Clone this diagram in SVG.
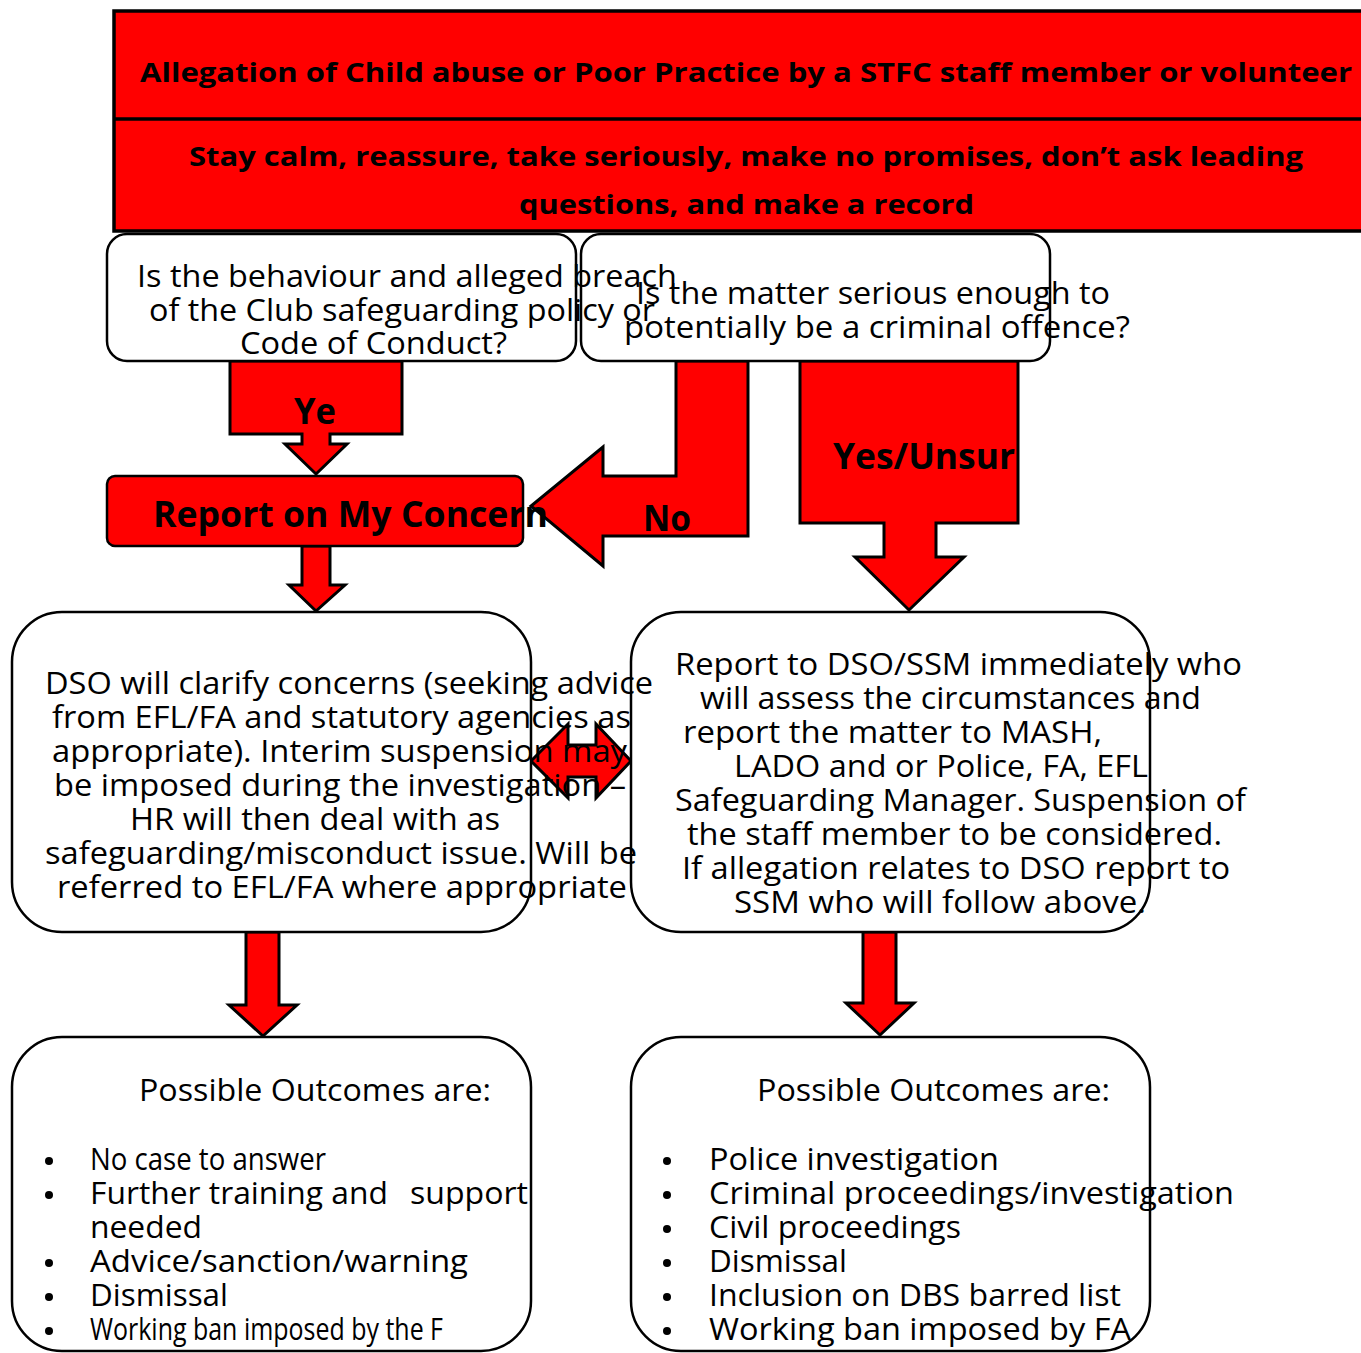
<svg xmlns="http://www.w3.org/2000/svg" width="1361" height="1353" viewBox="0 0 1361 1353">
<style>
.t{font-family:"Open Sans","Liberation Sans",sans-serif;font-size:31px;fill:#000}
.b{font-family:"Open Sans","Liberation Sans",sans-serif;font-weight:bold;fill:#000}
.box{fill:#fff;stroke:#000;stroke-width:2.5}
.red{fill:#ff0000;stroke:#000;stroke-width:3}
</style>
<rect width="1361" height="1353" fill="#fff"/>
<g id="header">
<rect x="114" y="11" width="1270" height="220" fill="#ff0000" stroke="#000" stroke-width="3.5"/>
<line x1="114" y1="119" x2="1361" y2="119" stroke="#000" stroke-width="3.5"/>
<text class="b" font-size="27" x="140" y="82" textLength="1212" lengthAdjust="spacingAndGlyphs">Allegation of Child abuse or Poor Practice by a STFC staff member or volunteer</text>
<text class="b" font-size="27" x="189" y="166" textLength="1114" lengthAdjust="spacingAndGlyphs">Stay calm, reassure, take seriously, make no promises, don’t ask leading</text>
<text class="b" font-size="27" x="519" y="214" textLength="455" lengthAdjust="spacingAndGlyphs">questions, and make a record</text>
</g>
<g id="connectors">
<polygon class="red" points="230,361 402,361 402,434 330,434 330,444 347,444 316,474 285,444 302,444 302,434 230,434"/>
<text class="b" font-size="36" x="294" y="424" textLength="42" lengthAdjust="spacingAndGlyphs">Ye</text>
<polygon class="red" points="676,361 748,361 748,536 603,536 603,566 531,506 603,447 603,476 676,476"/>
<text class="b" font-size="36" x="643" y="531" textLength="48" lengthAdjust="spacingAndGlyphs">No</text>
<polygon class="red" points="800,361 1018,361 1018,523 936,523 936,557 964,557 909,610 855,557 884,557 884,523 800,523"/>
<text class="b" font-size="36" x="833" y="469" textLength="182" lengthAdjust="spacingAndGlyphs">Yes/Unsur</text>
<polygon class="red" points="302,546 330,546 330,585 345,585 316,611 289,585 302,585"/>
<polygon class="red" points="531,761 568,724 568,745 596,745 596,724 631,761 596,798 596,777 568,777 568,798"/>
<polygon class="red" points="246,932 279,932 279,1005 297,1005 263,1036 229,1005 246,1005"/>
<polygon class="red" points="863,932 896,932 896,1003 914,1003 880,1035 846,1003 863,1003"/>
</g>
<g id="q-criminal">
<rect class="box" x="581" y="234" width="469" height="127" rx="20"/>
<text class="t" x="636" y="304" textLength="474" lengthAdjust="spacingAndGlyphs">Is the matter serious enough to</text>
<text class="t" x="624" y="338" textLength="506" lengthAdjust="spacingAndGlyphs">potentially be a criminal offence?</text>
</g>
<g id="q-breach">
<rect class="box" x="107" y="234" width="469" height="127" rx="20"/>
<text class="t" x="137" y="287" textLength="540" lengthAdjust="spacingAndGlyphs">Is the behaviour and alleged breach</text>
<text class="t" x="149" y="321" textLength="506" lengthAdjust="spacingAndGlyphs">of the Club safeguarding policy or</text>
<text class="t" x="240" y="354" textLength="267" lengthAdjust="spacingAndGlyphs">Code of Conduct?</text>
</g>
<g id="report-concern">
<rect x="107" y="476" width="416" height="70" rx="8" fill="#ff0000" stroke="#000" stroke-width="2.5"/>
<text class="b" font-size="36" x="153" y="527" textLength="395" lengthAdjust="spacingAndGlyphs">Report on My Concern</text>
</g>
<g id="report-dso">
<rect class="box" x="631" y="612" width="519" height="320" rx="50"/>
<text class="t" x="675" y="675" textLength="567" lengthAdjust="spacingAndGlyphs">Report to DSO/SSM immediately who</text>
<text class="t" x="700" y="709" textLength="501" lengthAdjust="spacingAndGlyphs">will assess the circumstances and</text>
<text class="t" x="683" y="743" textLength="419" lengthAdjust="spacingAndGlyphs">report the matter to MASH,</text>
<text class="t" x="734" y="777" textLength="414" lengthAdjust="spacingAndGlyphs">LADO and or Police, FA, EFL</text>
<text class="t" x="675" y="811" textLength="571" lengthAdjust="spacingAndGlyphs">Safeguarding Manager. Suspension of</text>
<text class="t" x="687" y="845" textLength="535" lengthAdjust="spacingAndGlyphs">the staff member to be considered.</text>
<text class="t" x="682" y="879" textLength="548" lengthAdjust="spacingAndGlyphs">If allegation relates to DSO report to</text>
<text class="t" x="734" y="913" textLength="412" lengthAdjust="spacingAndGlyphs">SSM who will follow above.</text>
</g>
<g id="dso-clarify">
<rect class="box" x="12" y="612" width="519" height="320" rx="50"/>
<text class="t" x="45" y="694" textLength="608" lengthAdjust="spacingAndGlyphs">DSO will clarify concerns (seeking advice</text>
<text class="t" x="52" y="728" textLength="579" lengthAdjust="spacingAndGlyphs">from EFL/FA and statutory agencies as</text>
<text class="t" x="52" y="762" textLength="575" lengthAdjust="spacingAndGlyphs">appropriate). Interim suspension may</text>
<text class="t" x="54" y="796" textLength="572" lengthAdjust="spacingAndGlyphs">be imposed during the investigation –</text>
<text class="t" x="130" y="830" textLength="370" lengthAdjust="spacingAndGlyphs">HR will then deal with as</text>
<text class="t" x="45" y="864" textLength="592" lengthAdjust="spacingAndGlyphs">safeguarding/misconduct issue. Will be</text>
<text class="t" x="57" y="898" textLength="570" lengthAdjust="spacingAndGlyphs">referred to EFL/FA where appropriate</text>
</g>
<g id="outcomes-left">
<rect class="box" x="12" y="1037" width="519" height="314" rx="50"/>
<text class="t" x="139" y="1101" textLength="352" lengthAdjust="spacingAndGlyphs">Possible Outcomes are:</text>
<circle cx="49" cy="1161" r="4"/><circle cx="49" cy="1195" r="4"/><circle cx="49" cy="1263" r="4"/><circle cx="49" cy="1297" r="4"/><circle cx="49" cy="1331" r="4"/>
<text class="t" x="90" y="1170" textLength="236" lengthAdjust="spacingAndGlyphs">No case to answer</text>
<text class="t" x="90" y="1204" textLength="298" lengthAdjust="spacingAndGlyphs">Further training and</text>
<text class="t" x="410" y="1204" textLength="118" lengthAdjust="spacingAndGlyphs">support</text>
<text class="t" x="90" y="1238" textLength="112" lengthAdjust="spacingAndGlyphs">needed</text>
<text class="t" x="90" y="1272" textLength="378" lengthAdjust="spacingAndGlyphs">Advice/sanction/warning</text>
<text class="t" x="90" y="1306" textLength="138" lengthAdjust="spacingAndGlyphs">Dismissal</text>
<text class="t" x="90" y="1340" textLength="353" lengthAdjust="spacingAndGlyphs">Working ban imposed by the F</text>
</g>
<g id="outcomes-right">
<rect class="box" x="631" y="1037" width="519" height="314" rx="50"/>
<text class="t" x="757" y="1101" textLength="353" lengthAdjust="spacingAndGlyphs">Possible Outcomes are:</text>
<circle cx="667" cy="1161" r="4"/><circle cx="667" cy="1195" r="4"/><circle cx="667" cy="1229" r="4"/><circle cx="667" cy="1263" r="4"/><circle cx="667" cy="1297" r="4"/><circle cx="667" cy="1331" r="4"/>
<text class="t" x="709" y="1170" textLength="290" lengthAdjust="spacingAndGlyphs">Police investigation</text>
<text class="t" x="709" y="1204" textLength="525" lengthAdjust="spacingAndGlyphs">Criminal proceedings/investigation</text>
<text class="t" x="709" y="1238" textLength="252" lengthAdjust="spacingAndGlyphs">Civil proceedings</text>
<text class="t" x="709" y="1272" textLength="138" lengthAdjust="spacingAndGlyphs">Dismissal</text>
<text class="t" x="709" y="1306" textLength="412" lengthAdjust="spacingAndGlyphs">Inclusion on DBS barred list</text>
<text class="t" x="709" y="1340" textLength="422" lengthAdjust="spacingAndGlyphs">Working ban imposed by FA</text>
</g>
</svg>
